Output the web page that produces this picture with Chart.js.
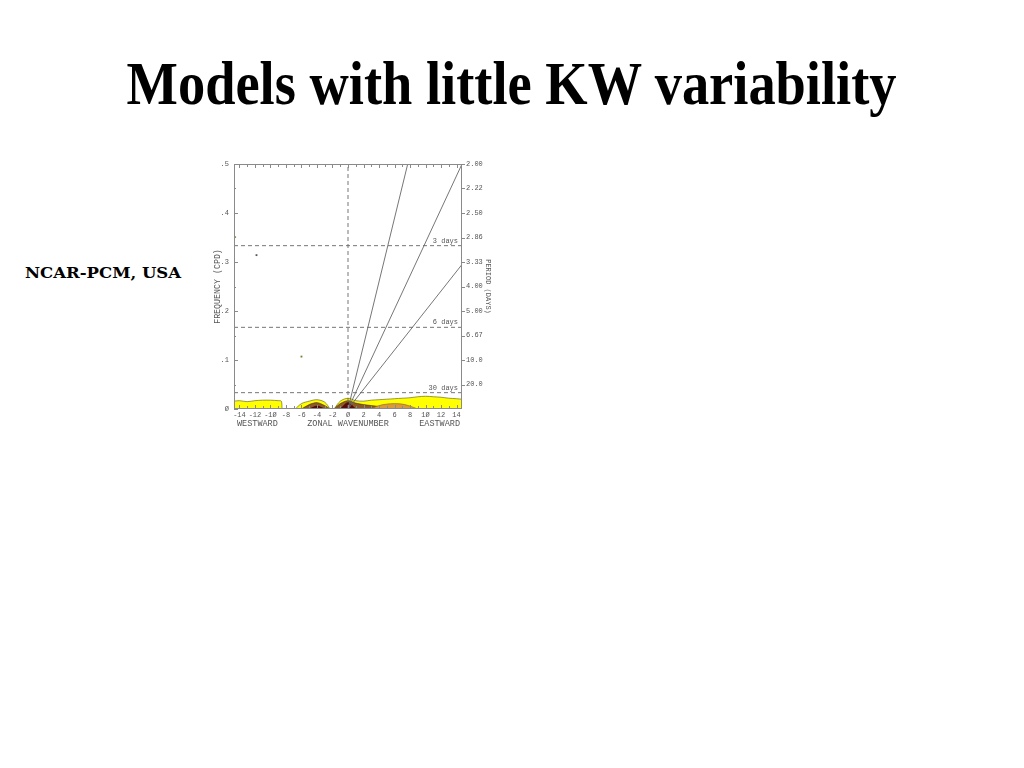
<!DOCTYPE html>
<html>
<head>
<meta charset="utf-8">
<script src="https://cdn.jsdelivr.net/npm/chart.js@4.4.0/dist/chart.umd.min.js"></script>
<style>
  html, body { margin: 0; padding: 0; background: #fff; width: 1024px; height: 768px; overflow: hidden; }
  #title { position: absolute; left: 0; top: 52px; width: 1024px; text-align: center;
           font: bold 62px "Liberation Serif", serif; line-height: 62px; color: #000; white-space: nowrap; }
  #title span { display: inline-block; transform-origin: center top; }
  #model { position: absolute; left: 25px; top: 266px; font: bold 14px "DejaVu Serif", serif;
           line-height: 14px; color: #000; white-space: nowrap; transform-origin: left top; }
  #box { position: absolute; left: 200px; top: 150px; width: 300px; height: 290px; }
</style>
</head>
<body>
<div id="title"><span>Models with little KW variability</span></div>
<div id="model">NCAR-PCM, USA</div>
<div id="box"><canvas id="wk" width="300" height="290"></canvas></div>

<script>
// zonal wavenumber grid for the low-frequency contour bands
const waveK = [-14.7, -14, -13, -12, -11, -10, -9, -8.6, -8.5, -8, -6.8, -6, -5, -4, -3, -2.3, -2,
               -1.8, -1, 0, 1, 2, 3, 4, 5, 6, 7, 8, 9, 10, 11, 12, 13, 14, 14.7];
// outer (yellow) contour top, in cpd
const yellowLevel = [0.016, 0.017, 0.015, 0.017, 0.018, 0.018, 0.017, 0.016, 0, null, 0, 0.011, 0.016, 0.019, 0.014, 0, null,
                     0, 0.016, 0.022, 0.017, 0.016, 0.018, 0.019, 0.020, 0.021, 0.022, 0.023, 0.025, 0.026, 0.025, 0.024, 0.022, 0.021, 0.020];
const brownLevel = [null, null, null, null, null, null, null, null, null, null, null, 0, 0.009, 0.013, 0.007, 0, null,
                    0, 0.011, 0.017, 0.012, 0.009, 0.007, 0.005, 0, null, null, null, null, null, null, null, null, null, null];
const orangeLevel = [null, null, null, null, null, null, null, null, null, null, null, null, null, null, null, null, null,
                     null, null, null, null, null, 0, 0.007, 0.010, 0.011, 0.010, 0.006, 0, null, null, null, null, null, null];
const darkLevel = [null, null, null, null, null, null, null, null, null, null, null, null, 0, 0.006, 0, null, null,
                   null, 0, 0.013, 0, null, null, null, null, null, null, null, null, null, null, null, null, null, null];

// isolated small features
const blobK = [-14.55, -11.8, -6];
const blobF = [0.351, 0.314, 0.107];
const blobColors = ['#a8a832', '#555555', '#7d7a2c'];

// Kelvin dispersion lines: from origin to these end points
const kelvinEndK = [7.7, 14.7, 14.7];
const kelvinEndF = [0.5, 0.5, 0.295];

// period reference lines
const dayFreqs = [1 / 3, 1 / 6, 1 / 30];
const dayLabels = ['3 days', '6 days', '30 days'];

// axis ticks
const xLabelValues = [-14, -12, -10, -8, -6, -4, -2, 0, 2, 4, 6, 8, 10, 12, 14];
const xLabelTexts = ['-14', '-12', '-1Ø', '-8', '-6', '-4', '-2', 'Ø', '2', '4', '6', '8', '1Ø', '12', '14'];
const yLabelValues = [0, 0.1, 0.2, 0.3, 0.4, 0.5];
const yLabelTexts = ['Ø', '.1', '.2', '.3', '.4', '.5'];
const periodFreqs = [0.5, 0.45, 0.4, 0.35, 0.3, 0.25, 0.2, 0.15, 0.1, 0.05];
const periodLabels = ['2.00', '2.22', '2.50', '2.86', '3.33', '4.00', '5.00', '6.67', '10.0', '20.0'];

const kMin = -14.7, kMax = 14.7;
const ink = '#555';
const axisColor = '#8a8a8a';
const mono = '"Liberation Mono", "DejaVu Sans Mono", monospace';

function fitWidth(el, target) {
  const w = el.getBoundingClientRect().width;
  el.style.transform = 'scaleX(' + (target / w) + ')';
}
fitWidth(document.querySelector('#title span'), 770);
fitWidth(document.getElementById('model'), 156);

function band(levels, fillColor, lineColor, order) {
  return {
    data: waveK.map((k, i) => ({ x: k, y: levels[i] })),
    backgroundColor: fillColor,
    borderColor: lineColor,
    borderWidth: 0.6,
    fill: 'origin',
    spanGaps: false,
    tension: 0.3,
    order: order
  };
}

const datasets = [];
kelvinEndK.forEach((k, i) => {
  datasets.push({ data: [{ x: 0, y: 0 }, { x: k, y: kelvinEndF[i] }],
                  borderColor: '#666', borderWidth: 0.9, order: 0 });
});
dayFreqs.forEach(f => {
  datasets.push({ data: [{ x: kMin, y: f }, { x: kMax, y: f }],
                  borderColor: '#666', borderWidth: 0.9, borderDash: [4, 3], order: 0 });
});
datasets.push({ data: [{ x: 0, y: 0 }, { x: 0, y: 0.5 }],
                borderColor: '#666', borderWidth: 0.9, borderDash: [4, 3], order: 0 });
datasets.push({ data: blobK.map((k, i) => ({ x: k, y: blobF[i] })), showLine: false,
                pointRadius: 1.3, pointStyle: 'rect', pointBackgroundColor: blobColors,
                pointBorderWidth: 0, order: 0 });
datasets.push(band(darkLevel, '#5a0a0a', '#3a0000', 1));
datasets.push(band(orangeLevel, '#d99a3a', '#8a6a20', 2));
datasets.push(band(brownLevel, '#8a5a28', '#4a3010', 3));
datasets.push(band(yellowLevel, '#ffff00', '#555500', 4));

const frame = {
  id: 'frame',
  afterDraw(chart) {
    const { ctx, chartArea: a, scales } = chart;
    const x = scales.x, y = scales.y, y2 = scales.y2;
    ctx.save();
    ctx.strokeStyle = axisColor;
    ctx.lineWidth = 1;
    ctx.strokeRect(a.left + 0.5, a.top + 0.5, a.right - a.left - 1, a.bottom - a.top - 1);
    ctx.beginPath();
    x.ticks.forEach(t => {
      const px = Math.round(x.getPixelForValue(t.value)) + 0.5;
      const len = t.value % 2 === 0 ? 4 : 3;
      ctx.moveTo(px, a.bottom); ctx.lineTo(px, a.bottom - len);
      ctx.moveTo(px, a.top); ctx.lineTo(px, a.top + len);
    });
    y.ticks.forEach(t => {
      const py = Math.round(y.getPixelForValue(t.value)) + 0.5;
      const major = yLabelValues.some(v => Math.abs(v - t.value) < 1e-6);
      ctx.moveTo(a.left, py); ctx.lineTo(a.left + (major ? 4 : 2), py);
    });
    y2.ticks.forEach(t => {
      const py = Math.round(y2.getPixelForValue(t.value)) + 0.5;
      ctx.moveTo(a.right, py); ctx.lineTo(a.right + 3, py);
    });
    ctx.stroke();

    ctx.fillStyle = ink;
    ctx.font = '7px ' + mono;
    ctx.textAlign = 'right';
    ctx.textBaseline = 'alphabetic';
    dayFreqs.forEach((f, i) => {
      ctx.fillText(dayLabels[i], a.right - 4, y.getPixelForValue(f) - 3);
    });

    ctx.font = '8.5px ' + mono;
    ctx.textBaseline = 'middle';
    const ty = a.bottom + 15;
    ctx.textAlign = 'left';
    ctx.fillText('WESTWARD', a.left + 3, ty);
    ctx.textAlign = 'center';
    ctx.fillText('ZONAL WAVENUMBER', x.getPixelForValue(0), ty);
    ctx.textAlign = 'right';
    ctx.fillText('EASTWARD', a.right - 2, ty);
    ctx.restore();
  }
};

const tickFont = { family: mono, size: 7 };
const noGrid = { display: false, drawTicks: false };

new Chart(document.getElementById('wk'), {
  type: 'line',
  data: { datasets: datasets },
  options: {
    responsive: false,
    animation: false,
    events: [],
    layout: { padding: { left: 11, right: 6, top: 14, bottom: 0 } },
    elements: { point: { radius: 0 }, line: { tension: 0 } },
    plugins: { legend: { display: false }, tooltip: { enabled: false } },
    scales: {
      x: {
        type: 'linear', position: 'bottom', min: kMin, max: kMax,
        afterBuildTicks: s => {
          const t = [];
          for (let k = -14; k <= 14; k++) t.push({ value: k });
          s.ticks = t;
        },
        afterFit: s => { s.height = 31; },
        grid: noGrid, border: { display: false },
        ticks: {
          autoSkip: false, maxRotation: 0, padding: 2, color: ink, font: tickFont,
          callback: v => {
            const i = xLabelValues.indexOf(v);
            return i >= 0 ? xLabelTexts[i] : '';
          }
        }
      },
      y: {
        type: 'linear', position: 'left', min: 0, max: 0.5,
        afterBuildTicks: s => {
          const t = [];
          for (let i = 0; i <= 10; i++) t.push({ value: i * 0.05 });
          s.ticks = t;
        },
        afterFit: s => { s.width = 23; },
        grid: noGrid, border: { display: false },
        title: { display: true, text: 'FREQUENCY (CPD)', color: ink,
                 font: { family: mono, size: 8.3 }, padding: { top: 2, bottom: 0 } },
        ticks: {
          autoSkip: false, padding: 5, color: ink, font: tickFont,
          callback: v => {
            const i = yLabelValues.findIndex(u => Math.abs(u - v) < 1e-6);
            return i >= 0 ? yLabelTexts[i] : '';
          }
        }
      },
      y2: {
        type: 'linear', position: 'right', min: 0, max: 0.5,
        afterBuildTicks: s => { s.ticks = periodFreqs.map(v => ({ value: v })); },
        afterFit: s => { s.width = 32; },
        grid: noGrid, border: { display: false },
        title: { display: true, text: 'PERIOD (DAYS)', color: ink,
                 font: { family: mono, size: 7 }, padding: { top: 2, bottom: 0 } },
        ticks: {
          autoSkip: false, padding: 4, color: ink, font: tickFont,
          callback: (v, i) => periodLabels[i]
        }
      }
    }
  },
  plugins: [frame]
});
</script>
</body>
</html>
